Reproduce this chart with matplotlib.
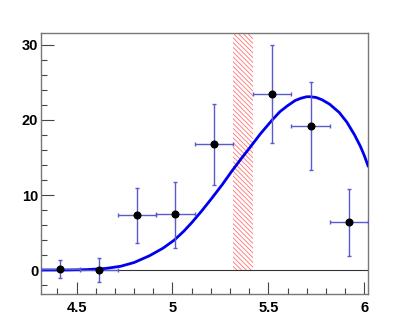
import numpy as np
import matplotlib
matplotlib.use('Agg')
import matplotlib.pyplot as plt
from matplotlib.ticker import MultipleLocator

# data points (bin centres, counts, asymmetric errors)
x_pts = [4.415, 4.615, 4.815, 5.015, 5.215, 5.52, 5.72, 5.92]
y_pts = [0.2, 0.0, 7.3, 7.5, 16.8, 23.5, 19.2, 6.4]
y_err_lo = [1.3, 1.6, 3.7, 4.5, 5.5, 6.6, 5.9, 4.5]
y_err_hi = [1.2, 1.6, 3.7, 4.3, 5.3, 6.5, 5.8, 4.4]
x_err = [0.1, 0.1, 0.1, 0.1, 0.1, 0.1, 0.1, 0.1]

# fitted curve
curve_x = [4.31, 4.45, 4.55, 4.65, 4.73, 4.80, 4.88, 4.95, 5.01, 5.06, 5.10,
           5.15, 5.20, 5.26, 5.31, 5.36, 5.40, 5.46, 5.52, 5.56, 5.60, 5.64,
           5.67, 5.70, 5.72, 5.75, 5.78, 5.82, 5.87, 5.91, 5.95, 5.98, 6.00,
           6.02]
curve_y = [0.0, 0.0, 0.05, 0.2, 0.5, 1.0, 1.9, 2.9, 4.0, 5.2, 6.3,
           7.8, 9.4, 11.4, 13.2, 14.9, 16.2, 18.2, 20.0, 21.1, 21.9, 22.6,
           22.9, 23.1, 23.1, 23.0, 22.7, 22.1, 21.0, 19.7, 18.0, 16.5, 15.3,
           13.9]

# excluded region
band = [5.315, 5.42]

plt.rcParams['font.family'] = ['Liberation Sans', 'DejaVu Sans']
plt.rcParams['hatch.linewidth'] = 0.6

fig = plt.figure(figsize=(4.09, 3.27), dpi=100)
ax = fig.add_axes([0.1002, 0.1009, 0.7996, 0.7982])

xmin, xmax = 4.314, 6.02
ymin, ymax = -3.2, 31.6

ax.fill_between(band, 0, ymax, facecolor='none', edgecolor='#ff5050',
                hatch='\\' * 7, linewidth=0, alpha=0.8, zorder=1)
ax.axhline(0, color='#333333', lw=0.8, zorder=2)

ax.plot(curve_x, curve_y, color='#0000ee', lw=2, zorder=3)

ax.errorbar(x_pts, y_pts, yerr=[y_err_lo, y_err_hi], xerr=x_err, fmt='o',
            color='black', ms=4.8, ecolor='#5a5ad0', elinewidth=1,
            capsize=1.5, capthick=1, zorder=4)

ax.set_xlim(xmin, xmax)
ax.set_ylim(ymin, ymax)

ax.xaxis.set_major_locator(MultipleLocator(0.5))
ax.xaxis.set_minor_locator(MultipleLocator(0.1))
ax.yaxis.set_major_locator(MultipleLocator(10))
ax.yaxis.set_minor_locator(MultipleLocator(2))
ax.tick_params(which='major', direction='in', length=9, width=0.8,
               color='#444444', labelsize=10.5)
ax.tick_params(which='minor', direction='in', length=4.5, width=0.8,
               color='#444444')
ax.tick_params(axis='x', which='major', pad=5)
ax.tick_params(axis='y', which='major', pad=2)
ax.set_xticklabels([], minor=True)

def fmt(v, pos):
    return ('%g' % v)
ax.xaxis.set_major_formatter(plt.FuncFormatter(fmt))
ax.yaxis.set_major_formatter(plt.FuncFormatter(fmt))
for lab in ax.get_xticklabels() + ax.get_yticklabels():
    lab.set_fontweight('bold')

for s in ax.spines.values():
    s.set_color('#777777')
    s.set_linewidth(1)

fig.savefig('out.png', dpi=100)
